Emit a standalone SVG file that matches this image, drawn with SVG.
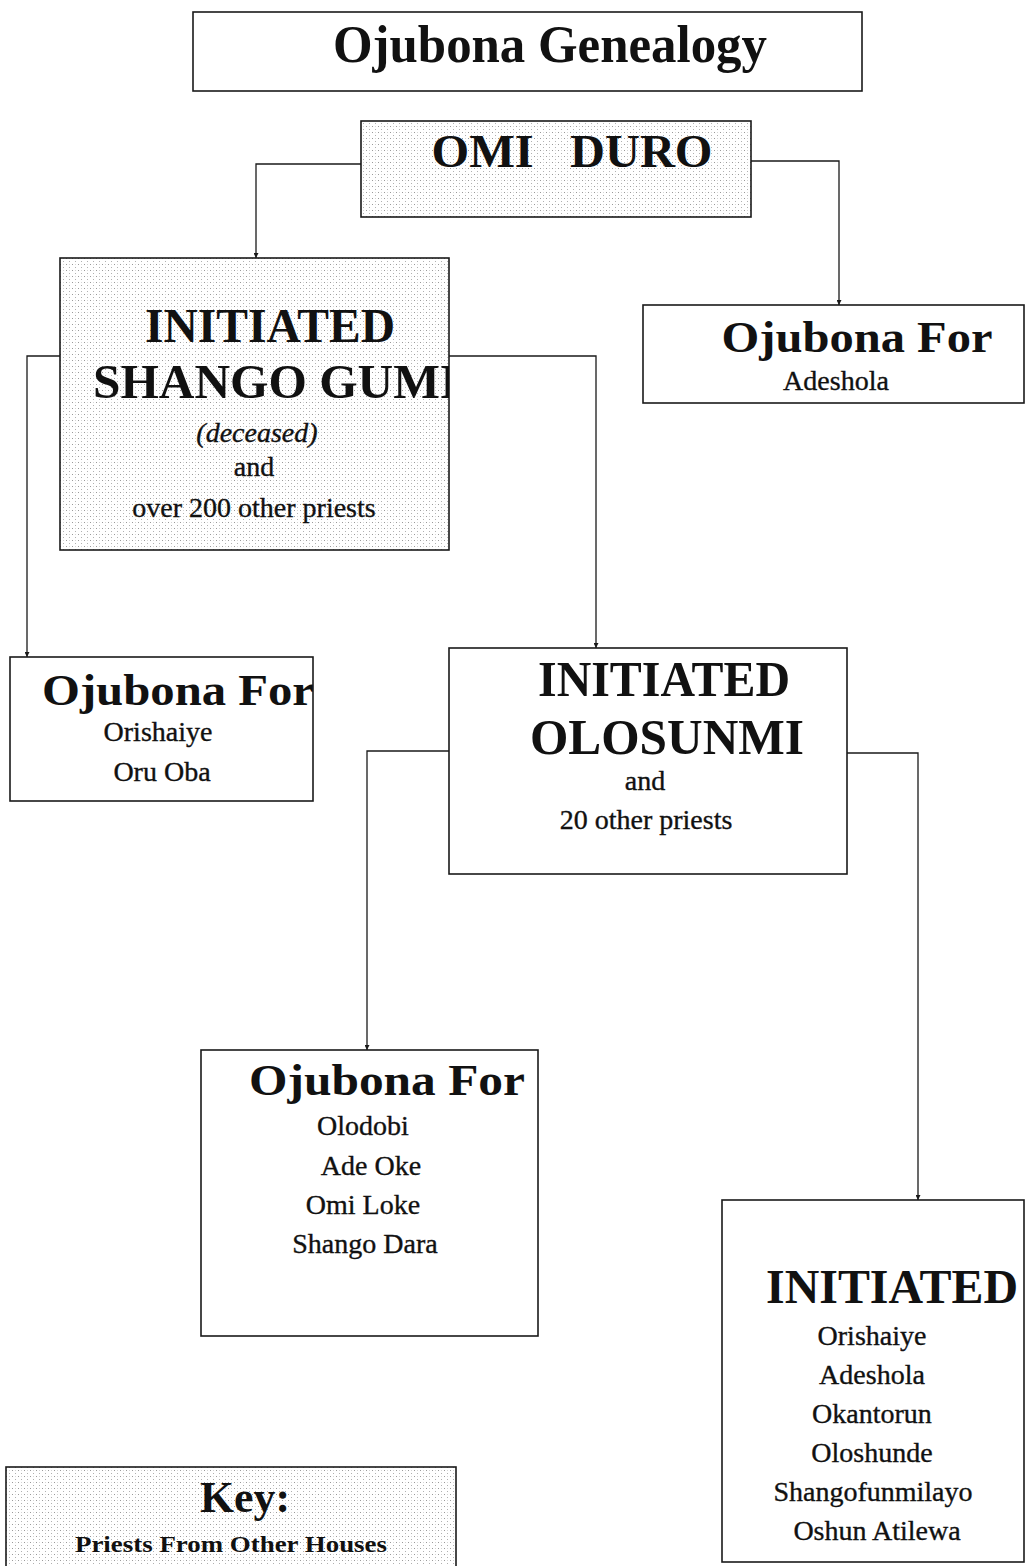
<svg xmlns="http://www.w3.org/2000/svg" width="1026" height="1566" viewBox="0 0 1026 1566">
  <style>
    .box { fill: #ffffff; stroke: #1a1a1a; stroke-width: 1.6; }
    .shaded { fill: url(#stipple); stroke: #1a1a1a; stroke-width: 1.6; }
    text { font-family: 'Liberation Serif', 'Times New Roman', Times, serif; fill: #111; text-anchor: middle; }
    .head { font-weight: bold; }
    .name { font-size: 28px; stroke: #111; stroke-width: 0.35; }
    .link { fill: none; stroke: #1a1a1a; stroke-width: 1.3; marker-end: url(#tip); }
  </style>
  <defs>
    <!-- light stippled shading for the highlighted boxes -->
    <pattern id="stipple" width="6" height="6" patternUnits="userSpaceOnUse">
      <rect width="6" height="6" fill="#ffffff"/>
      <rect x="0" y="0" width="1" height="1" fill="#9a9a9a"/>
      <rect x="3" y="3" width="1" height="1" fill="#b0b0b0"/>
      <rect x="3" y="0" width="1" height="1" fill="#d6d6d6"/>
    </pattern>
    <marker id="tip" viewBox="0 0 6 6" refX="6" refY="3" markerWidth="5" markerHeight="5" orient="auto" markerUnits="userSpaceOnUse">
      <path d="M0,0 L6,3 L0,6 Z" fill="#1a1a1a"/>
    </marker>
    <clipPath id="clipGumi"><rect x="60" y="258" width="389" height="292"/></clipPath>
    <clipPath id="clipOrishaiye"><rect x="10" y="657" width="303" height="144"/></clipPath>
  </defs>

  <!-- connectors -->
  <g id="connectors">
    <path class="link" d="M361,164 H256 V258"/>
    <path class="link" d="M750,161 H839 V305"/>
    <path class="link" d="M60,356 H27 V657"/>
    <path class="link" d="M449,356 H596 V648"/>
    <path class="link" d="M449,751 H367 V1050"/>
    <path class="link" d="M847,753 H918 V1200"/>
  </g>

  <g id="title">
    <rect class="box" x="193" y="12" width="669" height="79"/>
    <text class="head" x="550" y="62" font-size="52" textLength="434" lengthAdjust="spacingAndGlyphs">Ojubona Genealogy</text>
  </g>

  <g id="omi-duro">
    <rect class="shaded" x="361" y="121" width="390" height="96"/>
    <text class="head" x="572" y="167" font-size="47" textLength="281" lengthAdjust="spacingAndGlyphs" xml:space="preserve">OMI   DURO</text>
  </g>

  <g id="shango-gumi">
    <rect class="shaded" x="60" y="258" width="389" height="292"/>
    <g clip-path="url(#clipGumi)">
      <text class="head" x="270" y="342" font-size="48" textLength="250" lengthAdjust="spacingAndGlyphs">INITIATED</text>
      <text class="head" x="276" y="398" font-size="48" textLength="366" lengthAdjust="spacingAndGlyphs">SHANGO GUMI</text>
    </g>
    <text class="name" x="257" y="442" font-style="italic">(deceased)</text>
    <text class="name" x="254" y="476">and</text>
    <text class="name" x="254" y="517">over 200 other priests</text>
  </g>

  <g id="ojubona-adeshola">
    <rect class="box" x="643" y="305" width="381" height="98"/>
    <text class="head" x="857" y="352" font-size="44" textLength="271" lengthAdjust="spacingAndGlyphs">Ojubona For</text>
    <text class="name" x="836" y="390">Adeshola</text>
  </g>

  <g id="ojubona-orishaiye">
    <rect class="box" x="10" y="657" width="303" height="144"/>
    <g clip-path="url(#clipOrishaiye)">
      <text class="head" x="178" y="705" font-size="44" textLength="272" lengthAdjust="spacingAndGlyphs">Ojubona For</text>
    </g>
    <text class="name" x="158" y="741">Orishaiye</text>
    <text class="name" x="162" y="781">Oru Oba</text>
  </g>

  <g id="olosunmi">
    <rect class="box" x="449" y="648" width="398" height="226"/>
    <text class="head" x="664" y="696" font-size="50" textLength="252" lengthAdjust="spacingAndGlyphs">INITIATED</text>
    <text class="head" x="667" y="754" font-size="50" textLength="274" lengthAdjust="spacingAndGlyphs">OLOSUNMI</text>
    <text class="name" x="645" y="790">and</text>
    <text class="name" x="646" y="829">20 other priests</text>
  </g>

  <g id="ojubona-olodobi">
    <rect class="box" x="201" y="1050" width="337" height="286"/>
    <text class="head" x="387" y="1095" font-size="44" textLength="276" lengthAdjust="spacingAndGlyphs">Ojubona For</text>
    <text class="name" x="363" y="1135">Olodobi</text>
    <text class="name" x="371" y="1175">Ade Oke</text>
    <text class="name" x="363" y="1214">Omi Loke</text>
    <text class="name" x="365" y="1253">Shango Dara</text>
  </g>

  <g id="initiated-list">
    <rect class="box" x="722" y="1200" width="302" height="362"/>
    <text class="head" x="892" y="1303" font-size="48" textLength="252" lengthAdjust="spacingAndGlyphs">INITIATED</text>
    <text class="name" x="872" y="1345">Orishaiye</text>
    <text class="name" x="872" y="1384">Adeshola</text>
    <text class="name" x="872" y="1423">Okantorun</text>
    <text class="name" x="872" y="1462">Oloshunde</text>
    <text class="name" x="873" y="1501">Shangofunmilayo</text>
    <text class="name" x="877" y="1540">Oshun Atilewa</text>
  </g>

  <g id="key">
    <rect class="shaded" x="6" y="1467" width="450" height="104"/>
    <text class="head" x="245" y="1512" font-size="44" textLength="90" lengthAdjust="spacingAndGlyphs">Key:</text>
    <text class="head" x="231" y="1552" font-size="23" textLength="312" lengthAdjust="spacingAndGlyphs">Priests From Other Houses</text>
  </g>
</svg>
